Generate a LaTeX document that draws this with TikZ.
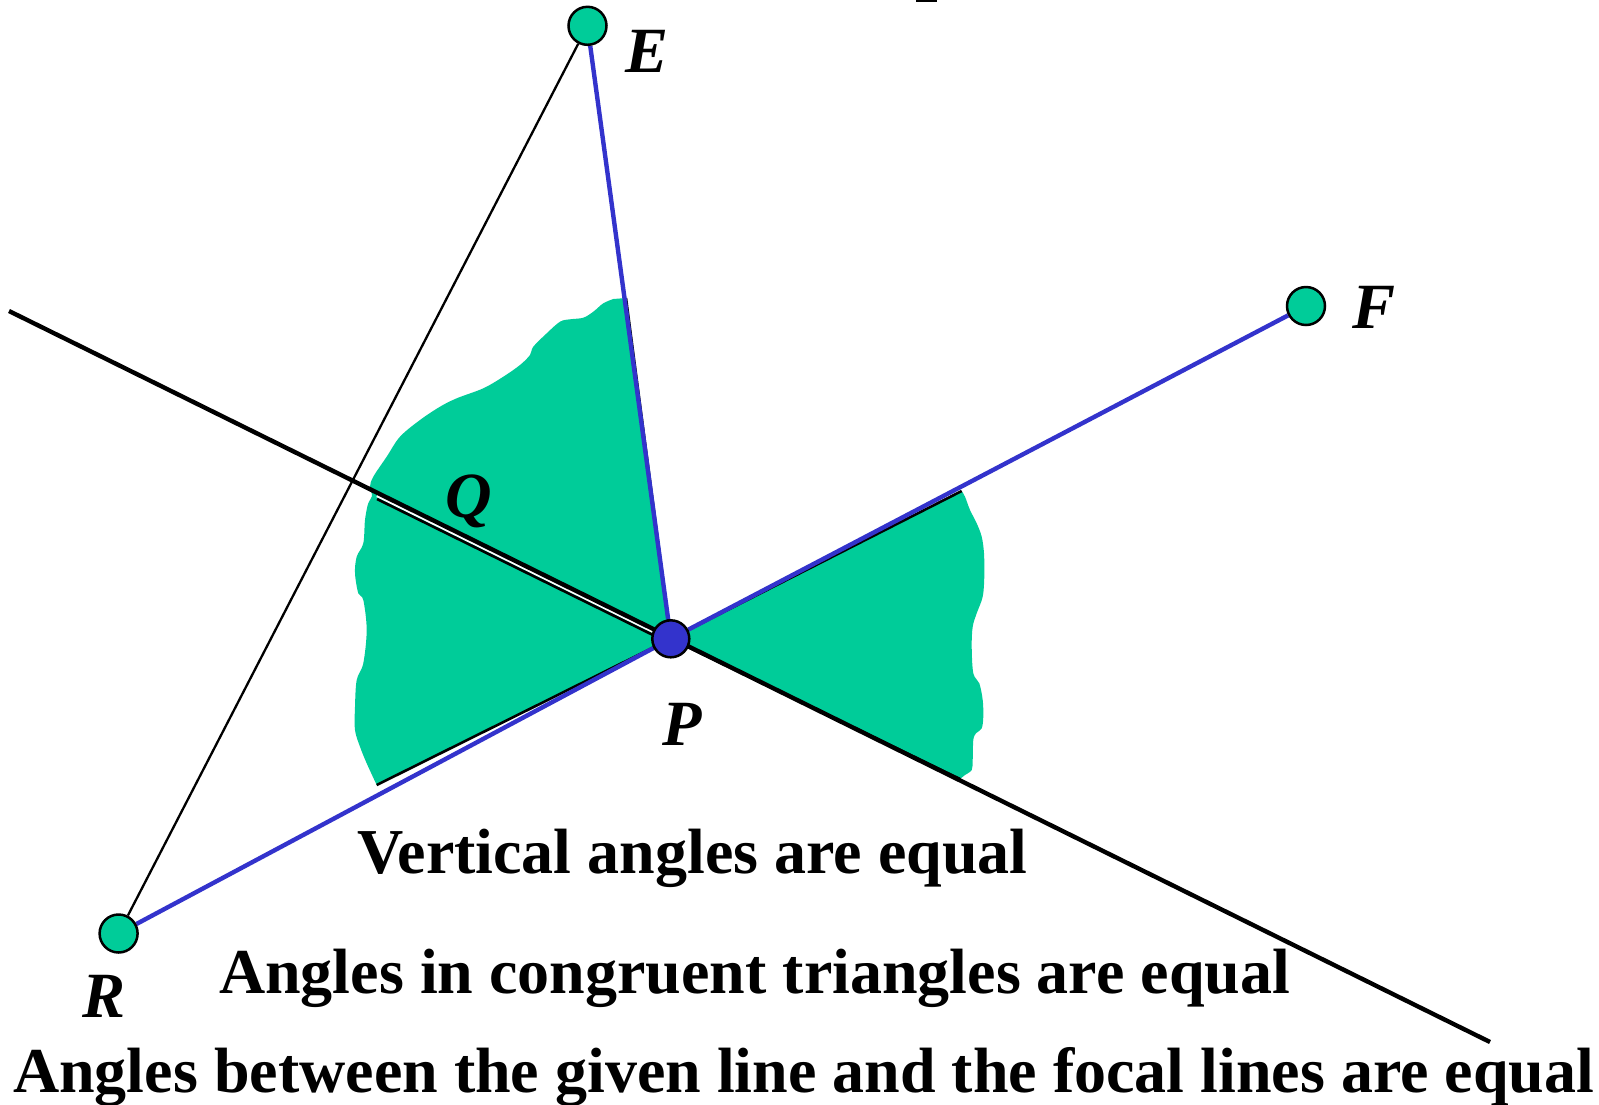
\documentclass[tikz,border=0pt]{standalone}
\usepackage{fontspec}
\setmainfont{Liberation Serif}
\definecolor{blobgreen}{RGB}{0,204,153}
\definecolor{lineblue}{RGB}{51,51,204}
\pgfdeclarelayer{bg}
\pgfsetlayers{bg,main}
\tikzset{
  pt/.style={circle,draw=black,line width=2.5pt,fill=blobgreen,minimum size=38pt,inner sep=0pt},
  ptP/.style={circle,draw=black,line width=2.5pt,fill=lineblue,minimum size=37pt,inner sep=0pt},
  lbl/.style={anchor=base west,inner sep=0pt,font=\fontsize{64.5}{70}\selectfont\bfseries\itshape},
  txt/.style={anchor=base west,inner sep=0pt,font=\fontsize{64}{70}\selectfont\bfseries},
  blueline/.style={draw=lineblue,line width=4.4pt},
  mainline/.style={draw=black,line width=4.4pt},
  thinline/.style={draw=black,line width=2.3pt},
  edgeline/.style={draw=black,line width=2.6pt}
}
\begin{document}
\begin{tikzpicture}[x=1pt,y=-1pt]
\useasboundingbox (0,0) rectangle (1599,1104);
% points
\node[pt] (E) at (587.5,25.8) {};
\node[pt] (F) at (1306,306) {};
\node[pt] (R) at (118.6,933.5) {};
\node[ptP] (P) at (670.8,638.8) {};
\coordinate (L1) at (9,311);
\coordinate (L2) at (1490,1042);
\coordinate (A1) at (626,298);
\coordinate (A2) at (376.7,785);
\coordinate (A3) at (377,499);
\coordinate (A4) at (655,636);
\coordinate (W1) at (377,495.6);
\coordinate (W2) at (655,632.6);
\coordinate (B1) at (961.7,491);
\coordinate (B2) at (960,779);
\begin{pgfonlayer}{bg}
% left green region
\fill[blobgreen] (P.center) -- (A1) -- plot[smooth,tension=0.55] coordinates {
 (613.3,299) (603.3,303.3) (593.3,311.7) (583.3,317.7) (570,319.3) (560,321.7)
 (546.7,333.3) (533.3,346.7) (530,355) (520,365) (503.3,376.7) (483.3,388.3)
 (456.7,398.3) (440,406.7) (420,420) (400,436.7) (386.7,456.7) (373.3,476.7)
 (370,486.7) (372,496) (368,504) (365,520) (363.3,543.3) (356.7,556.7) (355,573.3)
 (358.3,593.3) (363.3,600) (366.7,630) (363.3,663.3) (356.7,680) (355,706.7)
 (355,730) (360,746.7) (366.7,763.3) (376.7,785)} -- cycle;
% right green region
\fill[blobgreen] (P.center) -- (B1) -- plot[smooth,tension=0.55] coordinates {
 (961.7,491) (965,496.7) (970,510) (976.7,523.3) (981.7,536.7) (984,553.3)
 (984.3,576.7) (982.7,596.7) (976.7,613.3) (972.7,626.7) (971.7,646.7)
 (973.3,673.3) (979.3,683.3) (982.7,700) (983.3,716.7) (981.7,728.3) (976,733.3)
 (973.3,740) (972.7,760) (971.7,770) (965,775) (960,779)} -- cycle;
% white gap and edges
\draw[white,line width=3pt] (W1) -- (W2);
\draw[mainline] (L1) -- (L2);
\draw[edgeline] (A3) -- (A4);
\draw[edgeline] (A1) -- (P.center);
\draw[edgeline] (A2) -- (P.center);
\draw[edgeline] (B1) -- (P.center);
\draw[edgeline] (B2) -- (P.center);
% triangle line
\draw[thinline] (R) -- (E);
% focal lines
\draw[blueline] (E) -- (P);
\draw[blueline] (P) -- (F);
\draw[blueline] (R) -- (P);
\end{pgfonlayer}
% fragment at top edge
\fill[black] (916,0) rectangle (937,1.8);
% labels
\node[lbl] (lE) at (625,72) {E};
\node[lbl] (lF) at (1352,328) {F};
\node[lbl] (lP) at (662,745) {P};
\node[lbl] (lQ) at (445,517) {Q};
\node[lbl] (lR) at (82,1017) {R};
% texts
\node[txt] (t1) at (357,873) {Vertical angles are equal};
\node[txt] (t2) at (219,993) {Angles in congruent triangles are equal};
\node[txt] (t3) at (13,1092) {Angles between the given line and the focal lines are equal};
\end{tikzpicture}
\end{document}
